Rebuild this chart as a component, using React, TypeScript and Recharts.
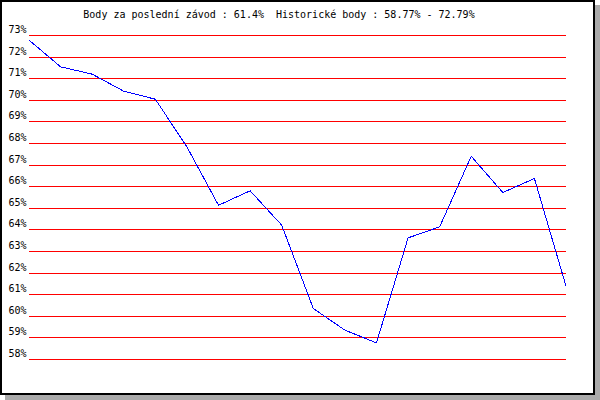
import React from "react";
import { LineChart, Line, XAxis, YAxis, CartesianGrid } from "recharts";

const races = ["1","2","3","4","5","6","7","8","9","10","11","12","13","14","15","16","17","18"];
const points = [72.79, 71.55, 71.21, 70.42, 70.05, 67.84, 65.14, 65.81, 64.22, 60.36, 59.36, 58.77, 63.63, 64.14, 67.41, 65.73, 66.38, 61.4];
const yTicks = [58, 59, 60, 61, 62, 63, 64, 65, 66, 67, 68, 69, 70, 71, 72, 73];
const title = "Body za poslední závod : 61.4%  Historické body : 58.77% - 72.79%";

const data = races.map((r, i) => ({ race: r, value: points[i] }));

const FONT = "'DejaVu Sans Mono', monospace";

const YTick = (props: any) => {
  const { y, payload } = props;
  return (
    <text x={26.5} y={y - 2.5} textAnchor="end" fontFamily={FONT} fontSize={10} fill="#000">
      {payload.value}%
    </text>
  );
};

export default function App() {
  return (
    <div style={{ position: "absolute", left: 0, top: 0, width: 600, height: 400, background: "#fff" }}>
      <div style={{ position: "absolute", left: 5, top: 5, width: 595, height: 395, background: "#aaaaaa" }} />
      <div
        style={{
          position: "absolute",
          left: 0,
          top: 0,
          width: 595,
          height: 395,
          boxSizing: "border-box",
          border: "2px solid #000",
          background: "#fff",
        }}
      />
      <div
        style={{
          position: "absolute",
          left: 0,
          top: 9,
          width: 558,
          textAlign: "center",
          fontFamily: FONT,
          fontSize: 10,
          lineHeight: "12px",
          color: "#000",
          whiteSpace: "pre",
        }}
      >
        {title}
      </div>
      <div style={{ position: "absolute", left: 0, top: 0 }}>
        <LineChart width={600} height={400} data={data} margin={{ top: 35.5, right: 34, bottom: 40.5, left: 0 }}>
          <CartesianGrid horizontal={true} vertical={false} stroke="#ff0000" strokeWidth={1} shapeRendering="crispEdges" />
          <XAxis dataKey="race" hide />
          <YAxis
            width={29}
            domain={[58, 73]}
            ticks={yTicks}
            interval={0}
            axisLine={false}
            tickLine={false}
            tick={<YTick />}
          />
          <Line
            type="linear"
            dataKey="value"
            stroke="#0000ff"
            strokeWidth={1}
            dot={false}
            activeDot={false}
            shapeRendering="crispEdges"
            isAnimationActive={false}
          />
        </LineChart>
      </div>
    </div>
  );
}
